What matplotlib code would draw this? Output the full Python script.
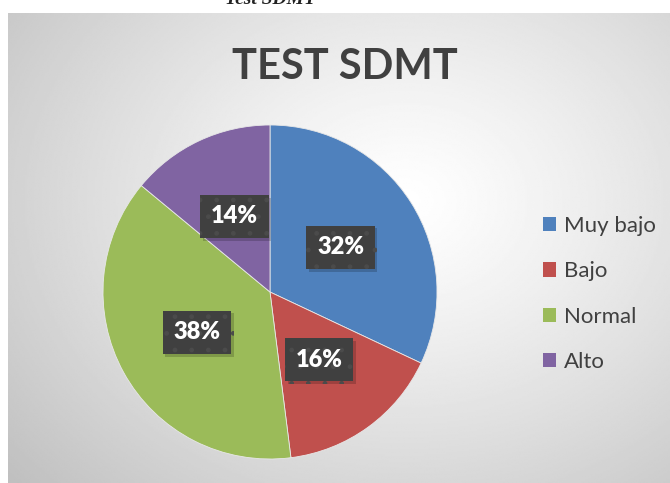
import numpy as np
import matplotlib
matplotlib.use("Agg")
import matplotlib.pyplot as plt
import matplotlib.patheffects as pe
from matplotlib.patches import Patch

# data
categories = ["Muy bajo", "Bajo", "Normal", "Alto"]
values = [32, 16, 38, 14]
colors = ["#4F81BD", "#C0504D", "#9BBB59", "#8064A2"]

plt.rcParams["font.family"] = ["Lato", "DejaVu Sans"]
plt.rcParams["hatch.color"] = "#4b4b4b"
plt.rcParams["hatch.linewidth"] = 1.0

W, H = 670, 483
fig = plt.figure(figsize=(W / 100, H / 100), dpi=100)
fig.patch.set_facecolor("white")

# chart area with radial gradient background
x0, y0 = 8, 13  # top-left of chart area in px
bg = fig.add_axes([x0 / W, 0, 1 - x0 / W, 1 - y0 / H])
bg.set_axis_off()
gx, gy = np.meshgrid(np.linspace(0, 1, 400), np.linspace(0, 1, 300))
cx, cy = 0.6, 0.4
r = np.sqrt(((gx - cx) / 0.8) ** 2 + ((gy - cy) / 0.9) ** 2)
r = np.clip(r, 0, 1)
shade = 1.0 - 0.25 * r ** 1.2
bg.imshow(shade, cmap="gray", vmin=0, vmax=1, aspect="auto",
          extent=(0, 1, 1, 0), interpolation="bilinear")
bg.set_xlim(0, 1)
bg.set_ylim(1, 0)

# caption above the chart, cut at the top edge as in the source
fig.text(270 / W, 1.0, "Test SDMT", ha="center", va="center",
         fontsize=14, style="italic", fontweight="bold",
         family=["Liberation Serif"], color="#222222")

fig.text(345 / W, 1 - 67 / H, "TEST SDMT", ha="center", va="center",
         fontsize=30, fontweight="bold", color="#404040")

# pie
pcx, pcy, pr = 270, 292, 167
ax = fig.add_axes([(pcx - pr) / W, (H - pcy - pr) / H, 2 * pr / W, 2 * pr / H])
wedges, _, autotexts = ax.pie(
    values, colors=colors, startangle=90, counterclock=False,
    autopct="%d%%", pctdistance=0.5,
    wedgeprops=dict(edgecolor="#e8e8e8", linewidth=0.6),
)
ax.set_xlim(-1, 1)
ax.set_ylim(-1, 1)
ax.set_aspect("equal")

for t in autotexts:
    t.set_color("white")
    t.set_fontsize(17)
    t.set_fontweight("heavy")
    t.set_bbox(dict(boxstyle="square,pad=0.45", fc="#404040", ec="#4b4b4b",
                    lw=0, hatch="."))
    t.get_bbox_patch().set_path_effects([
        pe.SimplePatchShadow(offset=(2, -2), shadow_rgbFace="#000000", alpha=0.18),
        pe.Normal(),
    ])

# legend
handles = [Patch(facecolor=c, edgecolor="none") for c in colors]
fig.legend(handles, categories, loc="upper left",
           bbox_to_anchor=(523 / W, 1 - 196 / H), frameon=False,
           fontsize=16, labelspacing=1.14, handlelength=0.6,
           handleheight=0.6, handletextpad=0.35, labelcolor="#404040")

fig.savefig("out.png", dpi=100)
